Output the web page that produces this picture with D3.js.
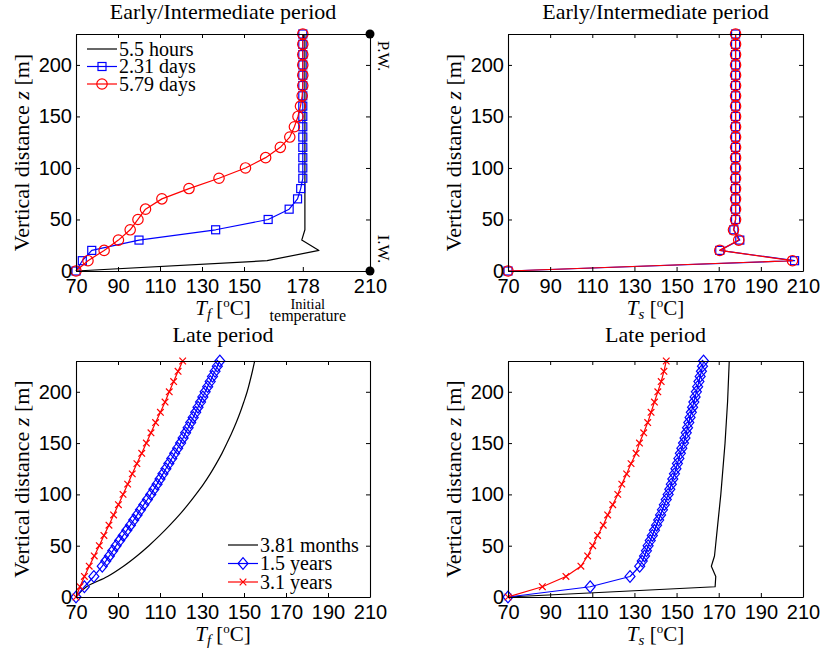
<!DOCTYPE html>
<html><head><meta charset="utf-8">
<script src="https://cdn.jsdelivr.net/npm/d3@7"></script>
<style>body{margin:0;background:#fff}</style>
</head><body>
<svg id="c" width="824" height="653"></svg>
<script>
// ---------------- DATA ----------------
const xTicksTfEarly = [70, 90, 110, 130, 150, 178, 210];
const xTicks = [70, 90, 110, 130, 150, 170, 190, 210];
const yTicks = [0, 50, 100, 150, 200];

const zEarly = [0,10,20,30,40,50,60,70,80,90,100,110,120,130,140,150,160,170,180,190,200,210,220,230];
const zLate = [0,10,20,30,40,50,60,70,80,90,100,110,120,130,140,150,160,170,180,190,200,210,220,230];
const zLateBlue = [0,10,20,30,35,40,45,50,55,60,65,70,75,80,85,90,95,100,105,110,115,120,125,130,135,140,145,150,155,160,165,170,175,180,185,190,195,200,205,210,215,220,225,230];

// Early/Intermediate, fluid temperature Tf
const tfEarly5h   = [70,161,185.7,177.5,179,179,179,179,179,179,179,179,179,179,179,179,179,179,179,179,179,179,179,179];
const tfEarly231d = [70,73,77.5,100,136.5,161.5,171.5,175.5,177,178,178,178,178,178,178,178,178,178,178,178,178,178,178,178];
const tfEarly579d = [70,75.7,83.4,90.2,95.8,99.5,103.1,110.9,123.8,138.1,150.7,160.3,167.3,171.8,174,175.7,176.9,177.7,178,178,178,178,178,178];

// Early/Intermediate, solid temperature Ts
const tsEarly231d = [70,206,170.5,180,177.2,178,178,178,178,178,178,178,178,178,178,178,178,178,178,178,178,178,178,178];
const tsEarly579d = [70,205,170.5,179.5,177,178,178,178,178,178,178,178,178,178,178,178,178,178,178,178,178,178,178,178];

// Late, fluid temperature Tf
const tfLate381m = [70,75,85,92.6,99,104.7,109.9,114.7,119.2,123.3,127.1,130.7,133.9,136.8,139.5,141.9,144.2,146.3,148.2,149.9,151.5,152.8,154,155.1];
const tfLate15y  = [70,74,78.5,82.5,84.2,85.9,87.5,89.1,90.8,92.5,94.2,95.9,97.5,99.1,100.7,102.3,104,105.6,107.1,108.6,110,111.4,112.8,114.2,115.6,117,118.4,119.8,121,122.2,123.4,124.6,125.8,127,128.1,129.3,130.4,131.5,132.7,133.9,135,136.2,137.3,138.5];
const tfLate31y  = [70,71.9,74,76.3,78.7,81.1,83.3,85.7,87.9,90.2,92.4,94.6,96.8,99,101.3,103.5,105.7,107.9,110.2,112.4,114.4,116.5,118.6,120.8];

// Late, solid temperature Ts
const tsLate381m = [70,168.3,168.6,166.5,168,168.5,169,169.5,170,170.5,171,171.4,171.8,172.2,172.6,173,173.3,173.6,173.9,174.2,174.4,174.6,174.8,175];
const tsLate15y  = [70,109,127.9,132.5,133.7,134.8,135.7,136.5,137.5,138.5,139.5,140.5,141.5,142.4,143.3,144.2,145.1,146,146.8,147.5,148.2,149,149.7,150.4,151.1,151.8,152.5,153.3,154,154.6,155.2,155.8,156.4,157,157.6,158.2,158.8,159.4,160,160.6,161.2,161.8,162.3,162.8];
const tsLate31y  = [70,86.3,97.5,104.6,107.8,110.2,112.5,115.2,117.3,119.7,122.1,124,126.3,128.4,130.8,132.4,134.4,136.3,137.9,139.5,141.1,142.7,144,145.1];

const titles = ["Early/Intermediate period", "Late period"];
const labelsEarly = ["5.5 hours", "2.31 days", "5.79 days"];
const labelsLate = ["3.81 months", "1.5 years", "3.1 years"];

// ---------------- LAYOUT ----------------
const SERIF = "'Liberation Serif','Times New Roman',serif";
const SANS = "'Liberation Sans',Arial,Helvetica,sans-serif";
const cols = [{x0: 76, x1: 370}, {x0: 508, x1: 803}];
const rows = [{y0: 34, y1: 271, tY: 18.5}, {y0: 361, y1: 597, tY: 342}];

const panels = [
  {c: 0, r: 0, title: titles[0], sub: "f", xt: xTicksTfEarly,
   series: [
     {z: zEarly, t: tfEarly5h, color: "#000", marker: null, label: labelsEarly[0]},
     {z: zEarly, t: tfEarly231d, color: "#0000ff", marker: "square", label: labelsEarly[1]},
     {z: zEarly, t: tfEarly579d, color: "#ff0000", marker: "circle", label: labelsEarly[2]}],
   legend: {x: 87, y: 49, dy: 17.5}, wells: true},
  {c: 1, r: 0, title: titles[0], sub: "s", xt: xTicks,
   series: [
     {z: zEarly, t: tsEarly231d, color: "#0000ff", marker: "square"},
     {z: zEarly, t: tsEarly579d, color: "#ff0000", marker: "circle"}]},
  {c: 0, r: 1, title: titles[1], sub: "f", xt: xTicks,
   series: [
     {z: zLate, t: tfLate381m, color: "#000", marker: null, label: labelsLate[0], smooth: true},
     {z: zLateBlue, t: tfLate15y, color: "#0000ff", marker: "diamond", label: labelsLate[1]},
     {z: zLate, t: tfLate31y, color: "#ff0000", marker: "x", label: labelsLate[2]}],
   legend: {x: 228, y: 545, dy: 18.5}},
  {c: 1, r: 1, title: titles[1], sub: "s", xt: xTicks,
   series: [
     {z: zLate, t: tsLate381m, color: "#000", marker: null},
     {z: zLateBlue, t: tsLate15y, color: "#0000ff", marker: "diamond"},
     {z: zLate, t: tsLate31y, color: "#ff0000", marker: "x"}]}
];

const svg = d3.select("#c");

function marker(sel, type, color) {
  sel.each(function() {
    const g = d3.select(this);
    if (type === "square") {
      g.append("rect").attr("x", -4).attr("y", -4).attr("width", 8).attr("height", 8)
        .attr("fill", "none").attr("stroke", color).attr("stroke-width", 1.2);
    } else if (type === "circle") {
      g.append("circle").attr("r", 5.2).attr("fill", "none").attr("stroke", color).attr("stroke-width", 1.2);
    } else if (type === "diamond") {
      g.append("path").attr("d", "M0,-5.8L5,0L0,5.8L-5,0Z")
        .attr("fill", "none").attr("stroke", color).attr("stroke-width", 1.2);
    } else if (type === "x") {
      g.append("path").attr("d", "M-3.3,-3.3L3.3,3.3M-3.3,3.3L3.3,-3.3")
        .attr("fill", "none").attr("stroke", color).attr("stroke-width", 1.2);
    }
  });
}

panels.forEach(p => {
  const {x0, x1} = cols[p.c];
  const {y0, y1, tY} = rows[p.r];
  const x = d3.scaleLinear().domain([70, 210]).range([x0, x1]);
  const y = d3.scaleLinear().domain([0, 230]).range([y1, y0]);
  const g = svg.append("g");

  // series
  p.series.forEach(s => {
    const pts = s.z.map((zz, i) => ({z: zz, t: s.t[i]}));
    const line = d3.line().x(d => x(d.t)).y(d => y(d.z));
    if (s.smooth) line.curve(d3.curveMonotoneY);
    g.append("path").datum(pts)
      .attr("d", line)
      .attr("fill", "none").attr("stroke", s.color).attr("stroke-width", 1.2)
      .attr("stroke-linejoin", "round");
    if (s.marker) {
      g.append("g").selectAll("g").data(pts).join("g")
        .attr("transform", d => `translate(${x(d.t)},${y(d.z)})`)
        .call(marker, s.marker, s.color);
    }
  });

  // axes
  const styleAxis = a => {
    a.selectAll(".domain").attr("stroke", "#000").attr("stroke-width", 1.1);
    a.selectAll(".tick line").attr("stroke", "#000").attr("stroke-width", 1);
    a.selectAll(".tick text").attr("font-family", SANS).attr("font-size", 20).attr("fill", "#000");
  };
  g.append("g").attr("transform", `translate(0,${y1})`)
    .call(d3.axisBottom(x).tickValues(p.xt).tickSize(-4).tickSizeOuter(0).tickPadding(7.5).tickFormat(d3.format("d")))
    .call(styleAxis);
  g.append("g").attr("transform", `translate(0,${y0})`)
    .call(d3.axisTop(x).tickValues(p.xt).tickSize(-4).tickSizeOuter(0).tickFormat(""))
    .call(styleAxis);
  g.append("g").attr("transform", `translate(${x0},0)`)
    .call(d3.axisLeft(y).tickValues(yTicks).tickSize(-4).tickSizeOuter(0).tickPadding(4).tickFormat(d3.format("d")))
    .call(styleAxis);
  g.append("g").attr("transform", `translate(${x1},0)`)
    .call(d3.axisRight(y).tickValues(yTicks).tickSize(-4).tickSizeOuter(0).tickFormat(""))
    .call(styleAxis);

  // title
  const cx = (x0 + x1) / 2;
  g.append("text").attr("x", cx).attr("y", tY).attr("text-anchor", "middle")
    .attr("font-family", SERIF).attr("font-size", 22).text(p.title);

  // x label  T_sub [°C]
  const xl = g.append("text").attr("x", cx).attr("y", y1 + 43.5).attr("text-anchor", "middle")
    .attr("font-family", SERIF).attr("font-size", 21);
  xl.append("tspan").attr("font-style", "italic").text("T");
  xl.append("tspan").attr("font-style", "italic").attr("font-size", 15).attr("dy", 4).text(p.sub);
  xl.append("tspan").attr("dy", -4).text(" [");
  xl.append("tspan").attr("font-size", 13).attr("dy", -7.5).text("o");
  xl.append("tspan").attr("dy", 7.5).text("C]");

  // y label
  const yl = g.append("text")
    .attr("transform", `translate(${x0 - 55},${(y0 + y1) / 2}) rotate(-90)`)
    .attr("text-anchor", "middle").attr("dy", "0.35em")
    .attr("font-family", SERIF).attr("font-size", 22);
  yl.append("tspan").text("Vertical distance ");
  yl.append("tspan").attr("font-style", "italic").text("z");
  yl.append("tspan").text(" [m]");

  // legend
  if (p.legend) {
    const L = p.legend;
    p.series.forEach((s, i) => {
      const ly = L.y + i * L.dy;
      g.append("line").attr("x1", L.x).attr("x2", L.x + 30).attr("y1", ly).attr("y2", ly)
        .attr("stroke", s.color).attr("stroke-width", 1.2);
      if (s.marker) {
        g.append("g").attr("transform", `translate(${L.x + 15},${ly})`).call(marker, s.marker, s.color);
      }
    });
    const lt = g.append("text").attr("font-family", SERIF).attr("font-size", 20);
    p.series.forEach((s, i) => {
      lt.append("tspan").attr("x", L.x + 32).attr("y", L.y + i * L.dy + 6.5).text(s.label);
    });
  }

  // wells and initial temperature annotation
  if (p.wells) {
    [230, 0].forEach(zz => {
      g.append("circle").attr("cx", x(210)).attr("cy", y(zz)).attr("r", 4.5).attr("fill", "#000");
    });
    [["P.W.", 56], ["I.W.", 249]].forEach(([t, yy]) => {
      g.append("text").attr("transform", `translate(${x1 + 8},${yy}) rotate(90)`)
        .attr("text-anchor", "middle").attr("font-family", SERIF).attr("font-size", 17).text(t);
    });
    const it = g.append("text").attr("text-anchor", "middle").attr("font-family", SERIF);
    it.append("tspan").attr("x", x(178) + 5).attr("y", y1 + 38).attr("font-size", 14.5).text("Initial");
    it.append("tspan").attr("x", x(178) + 5).attr("y", y1 + 50).attr("font-size", 16).text("temperature");
  }
});
</script>
</body></html>
